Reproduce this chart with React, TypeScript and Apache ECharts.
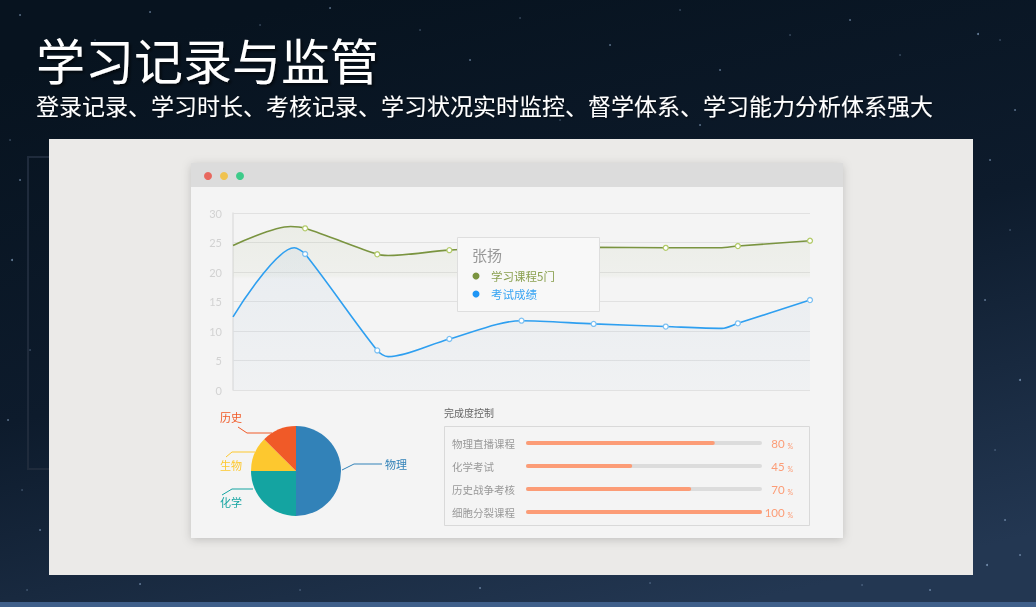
import React, { useEffect, useRef } from "react";
import * as echarts from "echarts";

const titleText = "学习记录与监管";
const subtitleText = "登录记录、学习时长、考核记录、学习状况实时监控、督学体系、学习能力分析体系强大";

const yTicks = [0, 5, 10, 15, 20, 25, 30];

// [x index, value, showSymbol]
const courseSeries: [number, number, boolean][] = [
  [0, 24.5, false],
  [0.8, 27.7, false],
  [1, 27.4, true],
  [2, 23.0, true],
  [2.15, 22.8, false],
  [3, 23.7, true],
  [4, 24.1, true],
  [5, 24.2, true],
  [6, 24.1, true],
  [6.75, 24.1, false],
  [7, 24.4, true],
  [8, 25.3, true],
];
const examSeries: [number, number, boolean][] = [
  [0, 12.4, false],
  [0.85, 24.1, false],
  [1, 23.05, true],
  [2, 6.7, true],
  [2.15, 5.65, false],
  [3, 8.65, true],
  [4, 11.75, true],
  [5, 11.2, true],
  [6, 10.75, true],
  [6.78, 10.45, false],
  [7, 11.3, true],
  [8, 15.25, true],
];

const tooltipName = "张扬";
const seriesNames = ["学习课程5门", "考试成绩"];

const subjects = ["物理", "化学", "生物", "历史"];
const subjectValues = [50, 25, 12.5, 12.5];
const subjectColors = ["#3282b8", "#14a4a1", "#fdc82f", "#f05a28"];

const progressTitle = "完成度控制";
const progressItems = ["物理直播课程", "化学考试", "历史战争考核", "细胞分裂课程"];
const progressValues = [80, 45, 70, 100];

// decorative background stars (layout only)
const stars: [number, number, number][] = [
  [20, 15, 0.8], [95, 40, 0.6], [150, 12, 0.8], [260, 25, 0.6], [330, 8, 0.8], [420, 30, 0.6],
  [470, 60, 0.8], [520, 18, 0.6], [610, 45, 0.8], [680, 10, 0.6], [720, 70, 0.8], [790, 35, 0.6],
  [850, 20, 0.8], [900, 55, 0.6], [978, 34, 1], [1000, 40, 0.6], [1015, 110, 0.8],
  [990, 160, 0.8], [1010, 230, 0.6], [985, 300, 0.8], [1020, 380, 1], [995, 450, 0.6],
  [1005, 520, 0.8], [987, 565, 1], [1020, 555, 0.8], [12, 260, 1], [30, 350, 0.6],
  [8, 420, 0.8], [22, 490, 0.6], [40, 530, 0.8], [27, 590, 0.6], [140, 584, 0.8],
  [300, 590, 0.6], [480, 588, 0.8], [650, 583, 0.6], [862, 585, 0.6], [930, 590, 0.8],
  [560, 120, 0.6], [700, 125, 0.8], [880, 118, 0.6], [20, 180, 0.8], [10, 140, 0.6],
];

// pie label placement (layout only)
const pieLabelPos = [
  { x: 385, y: 464, line: [[342, 470], [354, 464], [382, 464]] },
  { x: 220, y: 502, line: [[253, 489], [232, 489], [222, 495]] },
  { x: 220, y: 465, line: [[255, 452], [232, 452], [226, 457]] },
  { x: 220, y: 417, line: [[272, 433], [247, 433], [238, 427]] },
];

function toData(arr: [number, number, boolean][]) {
  return arr.map(([x, y, s]) => ({ value: [x, y], symbol: s ? "circle" : "none" }));
}

export default function App() {
  const ref = useRef<HTMLDivElement>(null);
  useEffect(() => {
    if (!ref.current) return;
    const chart = echarts.init(ref.current, undefined, { renderer: "svg" });
    const cjk = '"Noto Sans CJK SC", "Noto Sans", sans-serif';

    const graphics: any[] = [
      {
        type: "rect",
        shape: { x: 0, y: 0, width: 1036, height: 607 },
        style: {
          fill: new echarts.graphic.LinearGradient(0.3, 0, 0.7, 1, [
            { offset: 0, color: "#07131f" },
            { offset: 0.5, color: "#0d1b2c" },
            { offset: 1, color: "#233752" },
          ]),
        },
        silent: true,
      },
      ...stars.map(([x, y, r]) => ({
        type: "circle",
        shape: { cx: x, cy: y, r },
        style: { fill: "rgba(170,200,235,0.6)" },
        silent: true,
      })),
      {
        type: "rect",
        shape: { x: 0, y: 602, width: 1036, height: 5 },
        style: { fill: "#3f5f8a" },
      },
      {
        type: "rect",
        shape: { x: 28, y: 157, width: 40, height: 312 },
        style: { fill: "none", stroke: "#1f2b3c", lineWidth: 2 },
      },
      {
        type: "rect",
        shape: { x: 49, y: 139, width: 924, height: 436 },
        style: { fill: "#ebeae8" },
      },
      {
        type: "rect",
        shape: { x: 191, y: 163, width: 652, height: 375 },
        style: { fill: "#f4f4f4", shadowBlur: 10, shadowColor: "rgba(0,0,0,0.18)", shadowOffsetY: 2 },
      },
      {
        type: "rect",
        shape: { x: 191, y: 163, width: 652, height: 24 },
        style: { fill: "#dcdcdc" },
      },
      { type: "circle", shape: { cx: 208, cy: 176, r: 4 }, style: { fill: "#e8685e" } },
      { type: "circle", shape: { cx: 224, cy: 176, r: 4 }, style: { fill: "#f0c350" } },
      { type: "circle", shape: { cx: 240, cy: 176, r: 4 }, style: { fill: "#3ecb8a" } },
      {
        type: "text",
        x: 36,
        y: 58,
        style: {
          text: titleText,
          fill: "#ffffff",
          fontSize: 49,
          fontFamily: cjk,
          verticalAlign: "middle",
          textShadowColor: "rgba(0,0,0,0.6)",
          textShadowBlur: 3,
          textShadowOffsetX: 2,
          textShadowOffsetY: 2,
        },
      },
      {
        type: "text",
        x: 36,
        y: 104.5,
        style: {
          text: subtitleText,
          fill: "#ffffff",
          fontSize: 23,
          fontFamily: cjk,
          verticalAlign: "middle",
          textShadowColor: "rgba(0,0,0,0.6)",
          textShadowBlur: 2,
          textShadowOffsetX: 1,
          textShadowOffsetY: 1,
        },
      },
      // tooltip box
      {
        type: "rect",
        z: 20,
        shape: { x: 457.5, y: 237.5, width: 142, height: 74 },
        style: { fill: "#f8f8f8", stroke: "#dedede", lineWidth: 1 },
      },
      {
        type: "text",
        z: 21,
        x: 472,
        y: 254,
        style: { text: tooltipName, fill: "#999999", fontSize: 15, fontFamily: cjk, verticalAlign: "middle" },
      },
      { type: "circle", z: 21, shape: { cx: 476, cy: 276, r: 3.5 }, style: { fill: "#7a9440" } },
      {
        type: "text",
        z: 21,
        x: 491,
        y: 276,
        style: { text: seriesNames[0], fill: "#8aa050", fontSize: 11.5, fontFamily: cjk, verticalAlign: "middle" },
      },
      { type: "circle", z: 21, shape: { cx: 476, cy: 294, r: 3.5 }, style: { fill: "#1e96f5" } },
      {
        type: "text",
        z: 21,
        x: 491,
        y: 294,
        style: { text: seriesNames[1], fill: "#38a4f2", fontSize: 11.5, fontFamily: cjk, verticalAlign: "middle" },
      },
      // progress section
      {
        type: "text",
        x: 444,
        y: 412,
        style: { text: progressTitle, fill: "#666666", fontSize: 10, fontFamily: cjk, verticalAlign: "middle" },
      },
      {
        type: "rect",
        shape: { x: 444.5, y: 426.5, width: 365, height: 99 },
        style: { fill: "#f4f4f4", stroke: "#d9d9d9", lineWidth: 1 },
      },
    ];

    const option: any = {
      animation: false,
      textStyle: { fontFamily: cjk },
      graphic: { elements: graphics },
      grid: [
        { left: 233, top: 213, width: 577, height: 177 },
        { left: 526, top: 431.5, width: 236, height: 92 },
      ],
      xAxis: [
        { type: "value", gridIndex: 0, min: 0, max: 8, show: false },
        { type: "value", gridIndex: 1, min: 0, max: 100, show: false },
      ],
      yAxis: [
        {
          type: "value",
          gridIndex: 0,
          min: yTicks[0],
          max: yTicks[yTicks.length - 1],
          interval: 5,
          axisLine: { show: true, lineStyle: { color: "#e0e0e0", width: 1.5 } },
          axisTick: { show: false },
          axisLabel: { color: "#d2d2d2", fontSize: 11, margin: 11, fontFamily: "Lato, sans-serif" },
          splitLine: { lineStyle: { color: "#e1e1e1", width: 1.2 } },
        },
        {
          type: "category",
          gridIndex: 1,
          inverse: true,
          data: progressItems,
          axisLine: { show: false },
          axisTick: { show: false },
          axisLabel: { color: "#999999", fontSize: 10.5, align: "left", margin: 74, fontFamily: cjk },
        },
        {
          type: "category",
          gridIndex: 1,
          inverse: true,
          position: "right",
          data: progressValues.map(String),
          axisLine: { show: false },
          axisTick: { show: false },
          axisLabel: {
            align: "right",
            margin: 31,
            formatter: (v: string) => `{n|${v}} {p|%}`,
            rich: {
              n: { color: "#fc9c76", fontSize: 11.5, fontFamily: "Lato, sans-serif" },
              p: { color: "#fc9c76", fontSize: 7, fontFamily: "Lato, sans-serif", verticalAlign: "bottom" },
            },
          },
        },
      ],
      series: [
        {
          type: "line",
          name: seriesNames[0],
          xAxisIndex: 0,
          yAxisIndex: 0,
          z: 4,
          smooth: 0.3,
          data: toData(courseSeries),
          symbolSize: 5,
          lineStyle: { color: "#7a9440", width: 1.6 },
          itemStyle: { color: "#ffffff", borderColor: "#b3cb6a", borderWidth: 1.3 },
          areaStyle: {
            color: new echarts.graphic.LinearGradient(0, 0, 0, 1, [
              { offset: 0, color: "rgba(140,160,90,0.12)" },
              { offset: 0.3, color: "rgba(140,160,90,0.07)" },
              { offset: 0.32, color: "rgba(140,160,90,0)" },
              { offset: 1, color: "rgba(140,160,90,0)" },
            ]),
          },
        },
        {
          type: "line",
          name: seriesNames[1],
          xAxisIndex: 0,
          yAxisIndex: 0,
          z: 5,
          smooth: 0.3,
          data: toData(examSeries),
          symbolSize: 5,
          lineStyle: { color: "#2e9ff0", width: 1.6 },
          itemStyle: { color: "#ffffff", borderColor: "#7cc0f2", borderWidth: 1.3 },
          areaStyle: {
            color: new echarts.graphic.LinearGradient(0, 0, 0, 1, [
              { offset: 0, color: "rgba(170,195,220,0.22)" },
              { offset: 1, color: "rgba(170,195,220,0.08)" },
            ]),
          },
        },
        {
          type: "pie",
          center: [296, 471],
          radius: 45,
          startAngle: 90,
          clockwise: true,
          z: 5,
          data: subjects.map((s, i) => ({
            name: s,
            value: subjectValues[i],
            itemStyle: { color: subjectColors[i] },
            label: { color: subjectColors[i] },
            labelLine: { lineStyle: { color: subjectColors[i] } },
          })),
          label: { fontSize: 11, fontFamily: cjk },
          labelLine: { length: 10, length2: 26, lineStyle: { width: 1 } },
          labelLayout: (params: any) => {
            const p = pieLabelPos[params.dataIndex];
            return {
              x: p.x,
              y: p.y,
              align: "left",
              verticalAlign: "middle",
              labelLinePoints: p.line,
            };
          },
        },
        {
          type: "bar",
          xAxisIndex: 1,
          yAxisIndex: 1,
          barWidth: 4,
          z: 5,
          data: progressValues,
          showBackground: true,
          backgroundStyle: { color: "#dcdcdc", borderRadius: 2 },
          itemStyle: { color: "#fc9c76", borderRadius: 2 },
        },
      ],
    };
    chart.setOption(option);
    return () => chart.dispose();
  }, []);
  return (
    <div
      ref={ref}
      style={{ position: "fixed", left: 0, top: 0, width: 1036, height: 607 }}
    />
  );
}
